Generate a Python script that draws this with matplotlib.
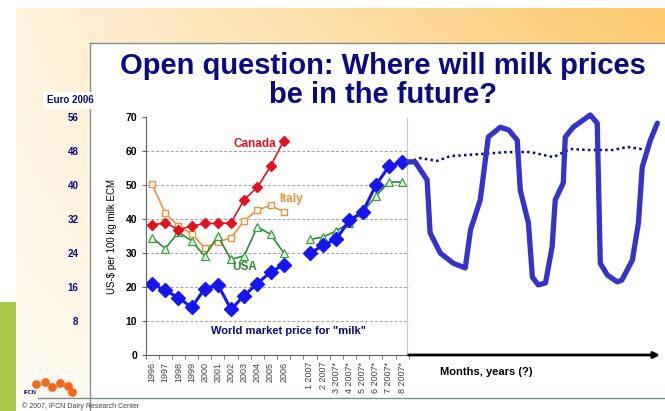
import numpy as np
import matplotlib.pyplot as plt
from matplotlib.patches import Rectangle

plt.rcParams["font.family"] = ["Liberation Sans", "DejaVu Sans"]

NAVY = "#0a0a80"
BLUE = "#1616f0"
SCRIBBLE = "#3434c8"
RED = "#e0141e"
ORANGE = "#f0903a"
GREEN = "#2a8a36"

# categories: yearly 1996-2006, a gap, then monthly 2007
tick_labels = ["1996", "1997", "1998", "1999", "2000", "2001", "2002", "2003",
               "2004", "2005", "2006", "",
               "1 2007", "2 2007", "3 2007*", "4 2007*", "5 2007*", "6 2007*",
               "7 2007*", "8 2007*"]
year_pos = np.arange(11)
month_pos = np.arange(12, 20)

canada = [38.2, 38.9, 36.9, 37.9, 38.7, 38.7, 38.9, 45.7, 49.3, 55.5, 63.0]
italy = [50.2, 41.8, 37.9, 35.7, 31.5, 33.2, 34.5, 39.5, 42.6, 44.0, 42.1]
usa_years = [34.5, 31.3, 36.1, 33.6, 29.1, 35.0, 28.1, 29.2, 37.7, 35.5, 30.1]
usa_months = [34.0, 34.7, 36.5, 38.9, 41.9, 46.7, 50.9, 50.9]
world_years = [20.9, 19.0, 16.9, 14.0, 19.5, 20.7, 13.4, 17.5, 21.0, 24.4, 26.5]
world_months = [29.9, 32.3, 34.0, 39.7, 42.0, 49.9, 55.5, 56.8]

# hand-drawn "future" sketch, x = slots after Aug 2007
future_x = [0.46, 0.99, 1.9, 2.13, 2.9, 3.88, 4.8, 5.2, 5.94, 6.55, 7.46, 8.1,
            8.75, 8.98, 9.6, 9.9, 10.35, 10.9, 11.4, 11.64, 12.25, 12.4, 13.0,
            14.3, 14.83, 15.06, 15.6, 16.35, 16.7, 17.5, 17.96, 18.25, 18.87, 19.4]
future_y = [56.8, 56.8, 51.5, 35.9, 30, 27, 25.6, 36.8, 45.6, 64.1, 67, 66.2,
            63.2, 48.5, 38.8, 22.9, 20.6, 21.2, 31.8, 45.6, 50.6, 64.1, 67,
            70.6, 68.2, 27, 23.5, 21.5, 22, 27.9, 38.8, 55.3, 63.2, 68.2]
trend_x = [0.46, 1.37, 2.67, 3.66, 5.94, 7.99, 9.74, 11.49, 12.78, 14.07,
           16.05, 17.12, 18.64]
trend_y = [56.8, 57.9, 57.1, 58.5, 59.1, 59.7, 59.7, 58.2, 60.6, 60.3, 60.3,
           61.2, 60.3]

usd_ticks = [0, 10, 20, 30, 40, 50, 60, 70]
grid_levels = [10, 20, 30, 40, 50, 60]
eur_ticks = [8, 16, 24, 32, 40, 48, 56]
EUR_PER_USD = 0.8

W, H = 665, 411
fig = plt.figure(figsize=(W / 100, H / 100), dpi=100)
fig.patch.set_facecolor("white")

# slide background in pixel coordinates
bg = fig.add_axes([0, 0, 1, 1])
bg.set_xlim(0, W)
bg.set_ylim(H, 0)
bg.axis("off")
xx, yy = np.meshgrid(np.linspace(0, 1, 200), np.linspace(0, 1, 120))
t = np.clip((0.22 + 0.8 * xx) * (1 - 0.75 * yy), 0, 1)[..., None]
white = np.array([1.0, 0.995, 0.985])
orange = np.array([0.99, 0.79, 0.43])
bg.imshow(white * (1 - t) + orange * t, extent=[16, W, H, 9], aspect="auto", zorder=0)
bg.add_patch(Rectangle((90, 43), W - 90, 355, facecolor="white", edgecolor="none", zorder=1))
bg.add_patch(Rectangle((16, 398), W - 16, 14, facecolor="white", edgecolor="none", zorder=1))
bg.add_patch(Rectangle((0, 302), 16, 110, facecolor="#a9c64c", edgecolor="none", zorder=2))
bg.plot([90, W], [43, 43], color="#7f9187", lw=1.0, zorder=3)
bg.plot([90, 90], [43, H], color="#7f9187", lw=1.0, zorder=3)
bg.plot([38, W], [398, 398], color="#7f9187", lw=1.0, zorder=3)
bg.text(70, 100, "Euro 2006", ha="center", va="center", fontsize=7,
        fontweight="bold", color=NAVY, zorder=4,
        bbox=dict(facecolor="white", edgecolor="none", pad=2.5))
bg.text(383, 66, "Open question: Where will milk prices", ha="center",
        va="center", fontsize=21, fontweight="bold", color=NAVY, zorder=4)
bg.text(383, 95, "be in the future?", ha="center", va="center",
        fontsize=21, fontweight="bold", color=NAVY, zorder=4)
bg.text(22, 406, "\u00a9 2007, IFCN Dairy Research Center", ha="left",
        va="center", fontsize=5, color="#404040", zorder=4)
bg.text(24, 392, "IFCN", ha="left", va="center", fontsize=4,
        fontweight="bold", color=NAVY, zorder=4)
bg.scatter([36, 45, 52, 60, 68, 72], [384, 382, 387, 383, 386, 392], s=40,
           color="#f06a1e", marker="o", zorder=4, linewidths=0)

# main chart
ax = fig.add_axes([145.5 / W, 1 - 355 / H, (660 - 145.5) / W, (355 - 117) / H])
ax.set_zorder(2)
ax.patch.set_alpha(0)
ax.set_xlim(-0.5, 38.6)
ax.set_ylim(0, 70)

ax.hlines(grid_levels, -0.5, 19.5, colors="#a0a0a0", linestyles=(0, (3, 2)), lw=0.7)
ax.vlines(19.35, 0, 70, colors="#c8c8c8", lw=0.8)

ax.plot(year_pos, italy, color=ORANGE, lw=1.2, marker="s", ms=5,
        mfc="white", mec=ORANGE, mew=1)
ax.plot(year_pos, usa_years, color=GREEN, lw=1.2, marker="^", ms=6,
        mfc="#e4f6dc", mec="#3aa046", mew=0.9)
ax.plot(month_pos, usa_months, color=GREEN, lw=1.2, marker="^", ms=6,
        mfc="#e4f6dc", mec="#3aa046", mew=0.9)
ax.plot(year_pos, canada, color=RED, lw=1.2, marker="D", ms=5, mfc=RED, mec=RED)
ax.plot(year_pos, world_years, color=BLUE, lw=2.2, marker="D", ms=7, mfc=BLUE, mec=BLUE)
ax.plot(month_pos, world_months, color=BLUE, lw=2.2, marker="D", ms=7, mfc=BLUE, mec=BLUE)

ax.plot(19 + np.array(trend_x), trend_y, color=NAVY, lw=1.8, ls=(0, (1, 1.3)),
        clip_on=False)
ax.plot(19 + np.array(future_x), future_y, color=SCRIBBLE, lw=3.8,
        solid_joinstyle="round", solid_capstyle="round", clip_on=False)

ax.text(7.83, 62, "Canada", color=RED, fontsize=8.5, fontweight="bold",
        ha="center", va="center")
ax.text(10.6, 46, "Italy", color=ORANGE, fontsize=8.5, fontweight="bold",
        ha="center", va="center")
ax.text(7.0, 26, "USA", color=GREEN, fontsize=8.5, fontweight="bold",
        ha="center", va="center")
ax.text(10.4, 7, 'World market price for "milk"', color=NAVY, fontsize=8,
        fontweight="bold", ha="center", va="center")
ax.text(21.9, -5.0, "Months, years (?)", color="black", fontsize=8,
        fontweight="bold", ha="left", va="center")

ax.annotate("", xy=(38.6, 0), xytext=(19.5, 0), annotation_clip=False,
            arrowprops=dict(arrowstyle="-|>", color="black", lw=2.0,
                            mutation_scale=9, shrinkA=0, shrinkB=0))

for side in ("top", "right"):
    ax.spines[side].set_visible(False)
ax.spines["bottom"].set_bounds(-0.5, 19.5)
ax.spines["left"].set_color("#606060")
ax.spines["bottom"].set_color("#606060")

ax.set_yticks(usd_ticks)
ax.set_yticklabels([str(v) for v in usd_ticks], fontsize=7.5, fontweight="bold")
ax.tick_params(axis="y", length=3, color="#606060", pad=3)
ax.set_xticks(np.arange(20))
ax.set_xticklabels(tick_labels, rotation=90, fontsize=6.5, color="#404040")
ax.set_xticks(np.arange(-0.5, 20, 1), minor=True)
ax.tick_params(axis="x", which="major", length=0, pad=5)
ax.tick_params(axis="x", which="minor", length=3, color="#606060")
ax.set_ylabel("US-$ per 100 kg milk ECM", fontsize=7, labelpad=6)

eur = ax.secondary_yaxis(-0.128, functions=(lambda u: u * EUR_PER_USD,
                                             lambda e: e / EUR_PER_USD))
eur.set_yticks(eur_ticks)
eur.set_yticklabels([str(v) for v in eur_ticks], fontsize=7,
                    fontweight="bold", color=NAVY)
eur.tick_params(length=0, pad=1)
eur.spines["left"].set_visible(False)

fig.savefig("out.png", dpi=100)
